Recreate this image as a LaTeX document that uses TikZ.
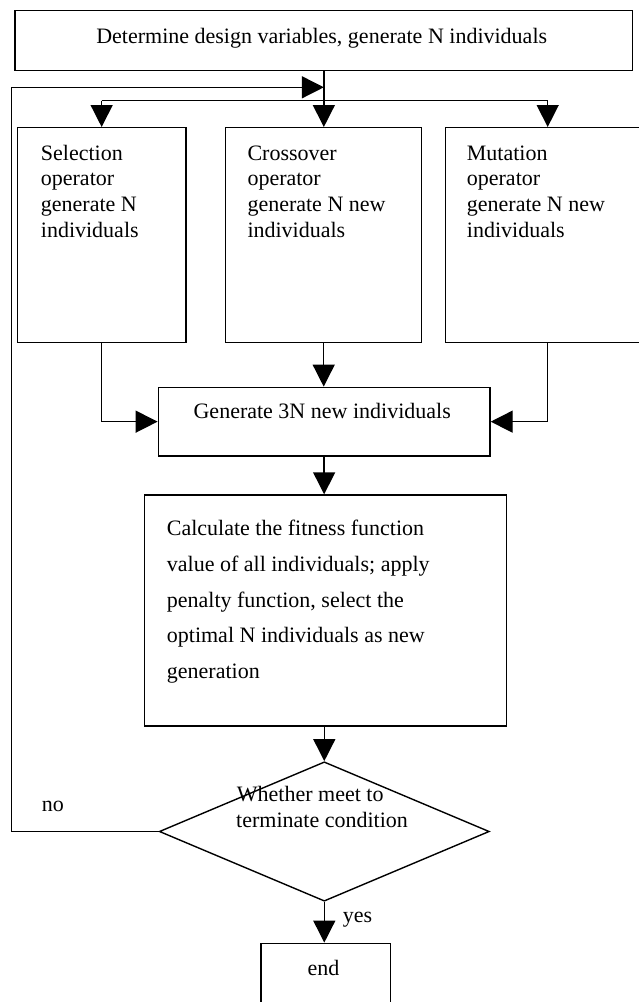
\documentclass[tikz,border=0pt]{standalone}
\usepackage{fontspec}
\setmainfont{Liberation Serif}
\usetikzlibrary{arrows.meta,shapes.geometric}
\tikzset{
  box/.style={draw=black,line width=1.4pt,rectangle,inner sep=0pt,anchor=center},
  dia/.style={draw=black,line width=1.4pt,diamond,inner sep=0pt,anchor=center},
  conn/.style={draw=black,line width=1.4pt},
  arr/.style={conn,-{Triangle[length=22pt,width=22pt]}},
  txt/.style={inner sep=0pt,font=\fontsize{22}{26}\selectfont}
}
\begin{document}
\begin{tikzpicture}[x=1pt,y=-1pt]
\clip (0,0) rectangle (639,1002);
% boxes
\node[box,minimum width=617.7pt,minimum height=60pt] (top) at (323.85,40.7) {};
\node[box,minimum width=168.7pt,minimum height=214.6pt] (sel) at (101.65,235) {};
\node[box,minimum width=196pt,minimum height=214.6pt] (cro) at (323.7,235) {};
\node[box,minimum width=214.3pt,minimum height=214.6pt] (mut) at (552.85,235) {};
\node[box,minimum width=331.7pt,minimum height=68.7pt] (gen) at (324.15,421.65) {};
\node[box,minimum width=362.4pt,minimum height=231pt] (calc) at (325.5,610.5) {};
\node[dia,minimum width=330pt,minimum height=139.4pt] (cond) at (324.3,831.5) {};
\node[box,minimum width=129.7pt,minimum height=86.7pt] (fin) at (325.85,986.65) {};
% texts
\node[txt,anchor=base] (topT) at (321.7,43) {Determine design variables, generate N individuals};
\foreach \t [count=\i] in {Selection,operator,generate N,individuals}
  \node[txt,anchor=base west] (selT\i) at (40.7,{160+25.7*(\i-1)}) {\t};
\foreach \t [count=\i] in {Crossover,operator,generate N new,individuals}
  \node[txt,anchor=base west] (croT\i) at (247.3,{160+25.7*(\i-1)}) {\t};
\foreach \t [count=\i] in {Mutation,operator,generate N new,individuals}
  \node[txt,anchor=base west] (mutT\i) at (466.7,{160+25.7*(\i-1)}) {\t};
\node[txt,anchor=base] (genT) at (322.2,418) {Generate 3N new individuals};
\foreach \t [count=\i] in {Calculate the fitness function,{value of all individuals; apply},{penalty function, select the},optimal N individuals as new,generation}
  \node[txt,anchor=base west] (calcT\i) at (166.7,{535.7+35.65*(\i-1)}) {\t};
\node[txt,anchor=base west] (condT1) at (236.7,801.7) {Whether meet to};
\node[txt,anchor=base west] (condT2) at (236,827.3) {terminate condition};
\node[txt,anchor=base] (finT) at (323.6,975) {end};
\node[txt,anchor=base west] (noT) at (41.7,811.7) {no};
\node[txt,anchor=base west] (yesT) at (342.7,922.7) {yes};
% junction coordinates
\coordinate (J) at (323.85,100.7);
\coordinate (B1) at (101.65,100.7);
\coordinate (B3) at (547.7,100.7);
\coordinate (fbc) at (11.7,87.3);
\coordinate (fbin) at (323.85,87.3);
% connectors
\draw[conn] (top.south) -- (J);
\draw[conn] (B1) -- (B3);
\draw[arr] (B1) -- (sel.north);
\draw[arr] (J) -- (J |- cro.north);
\draw[arr] (B3) -- (B3 |- mut.north);
\draw[arr] (sel.south) |- (gen.west);
\draw[arr] (cro.south) -- (cro.south |- gen.north);
\draw[arr] (B3 |- mut.south) |- (gen.east);
\draw[arr] (gen.south) -- (gen.south |- calc.north);
\draw[arr] (cond.north |- calc.south) -- (cond.north);
\draw[arr] (cond.south) -- (cond.south |- fin.north);
\draw[arr] (cond.west) -| (fbc) -- (fbin);
\end{tikzpicture}
\end{document}
